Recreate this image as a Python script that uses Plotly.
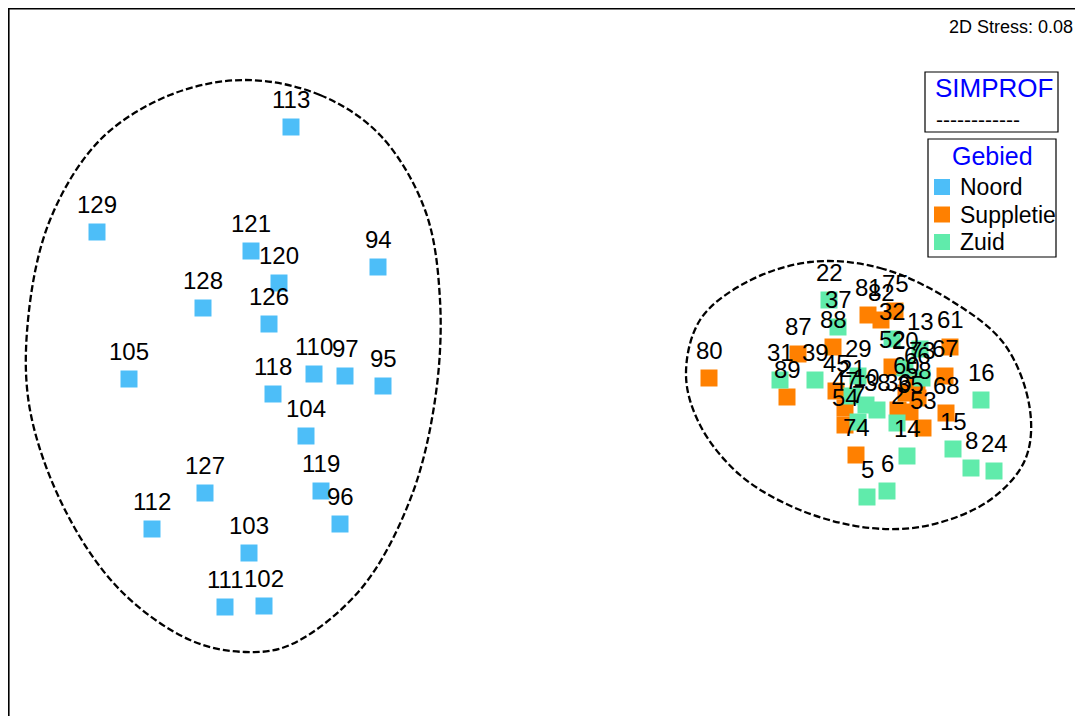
import plotly.graph_objects as go

# ---- data (NMDS coordinates) ----
noord_labels = ["113", "129", "121", "120", "94", "128", "126", "105", "118", "110",
                "97", "95", "104", "127", "119", "112", "96", "103", "111", "102"]
noord_x = [-1.016, -1.792, -1.176, -1.064, -0.668, -1.368, -1.104, -1.664, -1.088, -0.924,
           -0.800, -0.648, -0.956, -1.360, -0.896, -1.572, -0.820, -1.184, -1.280, -1.124]
noord_y = [0.956, 0.536, 0.460, 0.332, 0.396, 0.232, 0.168, -0.052, -0.112, -0.032,
           -0.040, -0.080, -0.280, -0.508, -0.500, -0.652, -0.632, -0.748, -0.964, -0.960]

supp_labels = ["80", "87", "89", "88", "81", "82", "75", "61", "67", "45", "47",
               "54", "74", "52", "60", "66", "68", "53", "35", "36", "58"]
supp_x = [0.656, 1.012, 0.968, 1.152, 1.292, 1.344, 1.400, 1.620, 1.600, 1.164, 1.200,
          1.200, 1.244, 1.388, 1.444, 1.488, 1.604, 1.512, 1.460, 1.412, 1.492]
supp_y = [-0.048, 0.048, -0.124, 0.076, 0.204, 0.184, 0.220, 0.076, -0.040, -0.100, -0.168,
          -0.236, -0.356, -0.004, -0.108, -0.068, -0.188, -0.248, -0.184, -0.176, -0.128]

zuid_labels = ["22", "37", "32", "13", "20", "73", "31", "39", "29", "21", "10",
               "38", "7", "2", "14", "6", "5", "16", "15", "8", "24"]
zuid_x = [1.136, 1.172, 1.388, 1.500, 1.440, 1.508, 0.940, 1.080, 1.252, 1.228, 1.284,
          1.328, 1.252, 1.408, 1.448, 1.368, 1.288, 1.744, 1.632, 1.704, 1.796]
zuid_y = [0.264, 0.156, 0.108, 0.068, -0.008, -0.048, -0.056, -0.056, -0.040, -0.120, -0.156,
          -0.176, -0.224, -0.228, -0.360, -0.500, -0.524, -0.136, -0.332, -0.408, -0.420]

# SIMPROF contours
contour1_x = [-1.20, -0.90, -0.66, -0.48, -0.42, -0.44, -0.54, -0.74, -1.02, -1.20,
              -1.42, -1.70, -1.92, -2.06, -2.068, -1.98, -1.78, -1.50]
contour1_y = [1.144, 1.084, 0.924, 0.624, 0.264, -0.136, -0.536, -0.896, -1.116, -1.144,
              -1.096, -0.896, -0.576, -0.176, 0.184, 0.584, 0.904, 1.084]
contour2_x = [1.06, 1.34, 1.62, 1.84, 1.94, 1.92, 1.78, 1.54, 1.30, 1.02, 0.78, 0.62,
              0.564, 0.62, 0.80]
contour2_y = [0.416, 0.392, 0.264, 0.084, -0.176, -0.376, -0.536, -0.636, -0.648, -0.576,
              -0.436, -0.236, -0.036, 0.184, 0.332]

groups = ["Noord", "Suppletie", "Zuid"]
colors = {"Noord": "#4DBEF8", "Suppletie": "#FF8000", "Zuid": "#60EBAB"}
stress_text = "2D Stress: 0.08"

FONT = "Liberation Sans, Arial, sans-serif"
# page body has an 8px margin; figure occupies 8..1083 x 8..716 of the window
OFF = 8
W, H = 1075, 708

fig = go.Figure()

for cx, cy in [(contour1_x, contour1_y), (contour2_x, contour2_y)]:
    fig.add_trace(go.Scatter(
        x=cx + cx[:1], y=cy + cy[:1], mode="lines",
        line=dict(color="black", width=2.3, dash="7px,3px", shape="spline", smoothing=1.0),
        hoverinfo="skip", showlegend=False))

series = [("Noord", noord_x, noord_y, noord_labels),
          ("Suppletie", supp_x, supp_y, supp_labels),
          ("Zuid", zuid_x, zuid_y, zuid_labels)]

annotations = []
for name, xs, ys, labs in series:
    fig.add_trace(go.Scatter(
        x=xs, y=ys, mode="markers", name=name,
        marker=dict(symbol="square", size=17, color=colors[name], line=dict(width=0)),
        text=labs, showlegend=False))
for name, xs, ys, labs in series:
    for x, y, t in zip(xs, ys, labs):
        annotations.append(dict(x=x, y=y, text=t, showarrow=False, xanchor="center",
                                yanchor="middle", yshift=28,
                                font=dict(family=FONT, size=24, color="black")))


def px(xp):
    # window pixel -> paper x
    return (xp - OFF) / W


def py(yp):
    return 1 - (yp - OFF) / H


shapes = []
# frame (left and top edges; right/bottom lie outside the window)
shapes.append(dict(type="line", xref="paper", yref="paper", x0=0.8 / W, x1=0.8 / W,
                   y0=0, y1=1, line=dict(color="black", width=1.6), layer="above"))
shapes.append(dict(type="line", xref="paper", yref="paper", x0=0, x1=1,
                   y0=1 - 0.8 / H, y1=1 - 0.8 / H, line=dict(color="black", width=1.6),
                   layer="above"))
# SIMPROF box
shapes.append(dict(type="rect", xref="paper", yref="paper", x0=px(925), x1=px(1058),
                   y0=py(132), y1=py(72), line=dict(color="black", width=1.2),
                   fillcolor="white", layer="above"))
annotations.append(dict(xref="paper", yref="paper", x=px(994), y=py(88), text="SIMPROF",
                        showarrow=False, xanchor="center", yanchor="middle",
                        font=dict(family=FONT, size=26, color="#0000FF")))
annotations.append(dict(xref="paper", yref="paper", x=px(978), y=py(119), text="------------",
                        showarrow=False, xanchor="center", yanchor="middle",
                        font=dict(family=FONT, size=21, color="black")))
# Gebied box
shapes.append(dict(type="rect", xref="paper", yref="paper", x0=px(928), x1=px(1056),
                   y0=py(257), y1=py(139), line=dict(color="black", width=1.2),
                   fillcolor="white", layer="above"))
annotations.append(dict(xref="paper", yref="paper", x=px(992), y=py(156), text="Gebied",
                        showarrow=False, xanchor="center", yanchor="middle",
                        font=dict(family=FONT, size=25, color="#0000FF")))
for i, g in enumerate(groups):
    yc = 187 + i * 27.5
    shapes.append(dict(type="rect", xref="paper", yref="paper", x0=px(934), x1=px(950),
                       y0=py(yc + 8), y1=py(yc - 8), line=dict(width=0),
                       fillcolor=colors[g], layer="above"))
    annotations.append(dict(xref="paper", yref="paper", x=px(958), y=py(yc), text=g,
                            showarrow=False, xanchor="left", yanchor="middle",
                            font=dict(family=FONT, size=23, color="black")))

annotations.append(dict(xref="paper", yref="paper", x=px(1075), y=py(27), text=stress_text,
                        showarrow=False, xanchor="right", yanchor="middle",
                        font=dict(family=FONT, size=18, color="black")))

x0 = (OFF - 545) / 250
x1 = (OFF + W - 545) / 250
y1 = (366 - OFF) / 250
y0 = (366 - OFF - H) / 250

fig.update_layout(
    width=W, height=H,
    margin=dict(l=0, r=0, t=0, b=0),
    paper_bgcolor="white", plot_bgcolor="white",
    showlegend=False,
    xaxis=dict(range=[x0, x1], showgrid=False, zeroline=False, showticklabels=False,
               ticks="", showline=False),
    yaxis=dict(range=[y0, y1], showgrid=False, zeroline=False, showticklabels=False,
               ticks="", showline=False),
    shapes=shapes,
    annotations=annotations,
    font=dict(family=FONT),
)

fig.write_html("out.html")
